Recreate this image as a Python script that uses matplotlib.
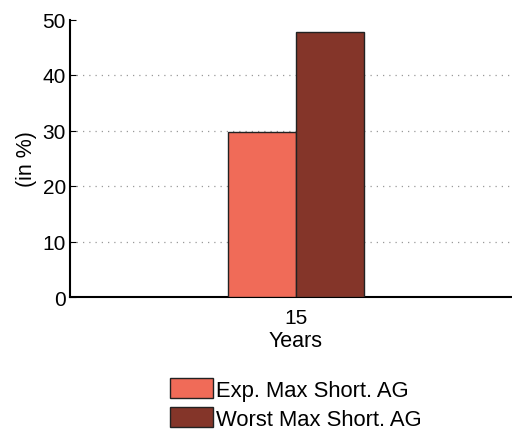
import matplotlib
matplotlib.use("Agg")
import matplotlib.pyplot as plt
from matplotlib.patches import Patch

categories = ["15"]
series_names = ["Exp. Max Short. AG", "Worst Max Short. AG"]
exp_values = [29.7]
worst_values = [47.7]
colors = ["#F06B58", "#843529"]

plt.rcParams['font.family'] = ['Liberation Sans', 'DejaVu Sans']

fig = plt.figure(figsize=(5.12, 4.31), dpi=100)
ax = fig.add_axes([70/512, 1-298/431, 452/512, (298-20.5)/431])

w = 0.30
xs = [1]
ax.bar([x - w/2 for x in xs], exp_values, width=w, color=colors[0], edgecolor='#222222', linewidth=1.0, zorder=3)
ax.bar([x + w/2 for x in xs], worst_values, width=w, color=colors[1], edgecolor='#222222', linewidth=1.0, zorder=3)

ax.set_xlim(0, 2)
ax.set_ylim(0, 50)
ax.set_yticks([0, 10, 20, 30, 40, 50])
ax.set_xticks(xs)
ax.set_xticklabels(categories)
ax.tick_params(axis='both', direction='in', labelsize=15, length=4)
ax.tick_params(axis='y', pad=3)
ax.tick_params(axis='x', length=0, pad=8)
for t in [10, 20, 30, 40]:
    ax.axhline(t, color='#999999', linestyle=(0, (1, 4)), linewidth=0.9, zorder=1)
ax.spines['top'].set_visible(False)
ax.spines['right'].set_visible(False)
ax.spines['left'].set_linewidth(1.5)
ax.spines['bottom'].set_linewidth(1.5)
ax.set_ylabel("(in %)", fontsize=15.5, labelpad=4)
ax.set_xlabel("Years", fontsize=15.5, labelpad=2)

handles = [Patch(facecolor=colors[0], edgecolor='#222222'), Patch(facecolor=colors[1], edgecolor='#222222')]
fig.legend(handles, series_names, loc='center', bbox_to_anchor=(296/512, 1-405/431), frameon=False,
           fontsize=15.8, handlelength=1.95, handleheight=1.0, handletextpad=0.15, labelspacing=0.3,
           borderpad=0)

fig.savefig("out.png", dpi=100)
